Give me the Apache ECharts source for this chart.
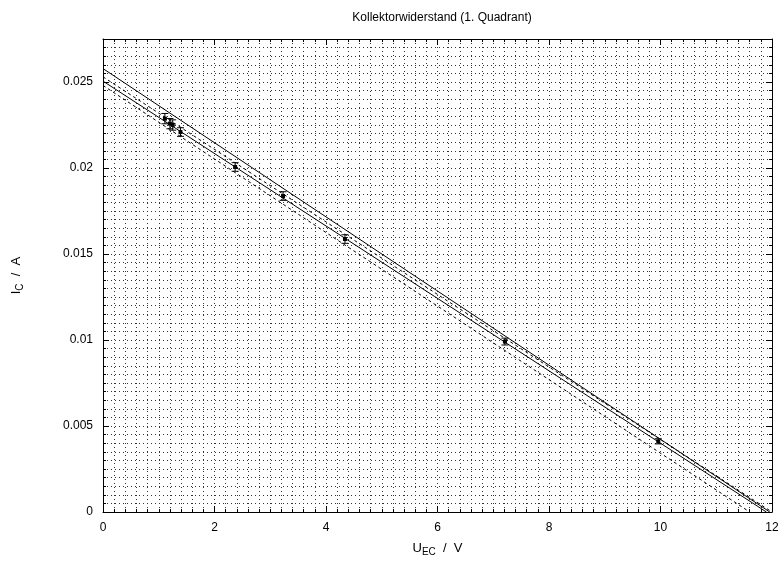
<!DOCTYPE html>
<html><head><meta charset="utf-8">
<script src="https://cdn.jsdelivr.net/npm/echarts@6/dist/echarts.min.js"></script>
<style>html,body{margin:0;padding:0;background:#fff}#c{width:784px;height:562px}</style>
</head><body><div id="c"></div>
<script>
// ---- data ----
const titleText = 'Kollektorwiderstand (1. Quadrant)';
const xMin = 0, xMax = 12, xStep = 2;
const yMin = 0, yMax = 0.0275, yStep = 0.005;
const uEC  = [1.11, 1.20, 1.25, 1.39, 2.37, 3.23, 4.34, 7.21, 9.96];
const iC   = [0.02287, 0.02258, 0.02250, 0.02209, 0.02006, 0.01837, 0.01587, 0.00991, 0.00411];
const iErr = [0.00030, 0.00030, 0.00030, 0.00025, 0.00025, 0.00025, 0.00025, 0.00020, 0.00015];
const solidUpper = [[0, 0.02578], [11.96, 0]];
const solidLower = [[0, 0.02505], [11.90, 0]];
const dashUpper  = [[0, 0.02530], [12.00, 0]];
const dashLower  = [[0, 0.02480], [11.60, 0]];

const FONT = '"Liberation Sans", Arial, sans-serif';
const chart = echarts.init(document.getElementById('c'), null, {renderer: 'canvas'});

const gridLine = {show: true, lineStyle: {color: '#333', width: 1, type: [1, 3]}};
function axisCommon(showLabels, pos) {
  return {
    min: pos === 'x' ? xMin : yMin,
    max: pos === 'x' ? xMax : yMax,
    interval: pos === 'x' ? xStep : yStep,
    axisLine: {show: true, onZero: false, lineStyle: {color: '#000', width: 1}},
    axisTick: {show: true, inside: true, length: 6, lineStyle: {color: '#000'}},
    minorTick: {show: true, splitNumber: 10, length: 3, lineStyle: {color: '#000'}},
    splitLine: showLabels ? gridLine : {show: false},
    minorSplitLine: showLabels ? gridLine : {show: false},
    axisLabel: showLabels ? {
      show: true, color: '#000', fontFamily: FONT, fontSize: 12, margin: 10,
      showMaxLabel: pos === 'x',
      formatter: v => String(+v.toFixed(6))
    } : {show: false}
  };
}

const errData = uEC.map((x, i) => [x, iC[i], iErr[i]]);
const nameRich = {n: {fontFamily: FONT, fontSize: 13, color: '#000'},
                  s: {fontFamily: FONT, fontSize: 10, color: '#000', verticalAlign: 'bottom', padding: [7, 0, 0, 0]}};

const option = {
  animation: false,
  backgroundColor: '#fff',
  title: {text: titleText, left: 437, top: 7, textAlign: 'center',
          textStyle: {fontFamily: FONT, fontSize: 12, fontWeight: 'normal', color: '#000'}},
  grid: {left: 103, right: 12, top: 39, bottom: 49},
  xAxis: [
    Object.assign({type: 'value', position: 'bottom',
      name: '{n|U}{s|EC}{n|  /  V}', nameLocation: 'middle', nameGap: 28,
      nameTextStyle: {rich: nameRich}
    }, axisCommon(true, 'x')),
    Object.assign({type: 'value', position: 'top'}, axisCommon(false, 'x'))
  ],
  yAxis: [
    Object.assign({type: 'value', position: 'left',
      name: '{n|I}{s|C}{n|  /  A}', nameLocation: 'middle', nameGap: 78, nameRotate: 90,
      nameTextStyle: {rich: nameRich}
    }, axisCommon(true, 'y')),
    Object.assign({type: 'value', position: 'right'}, axisCommon(false, 'y'))
  ],
  series: [
    {type: 'line', data: solidUpper, symbol: 'none', silent: true,
     lineStyle: {color: '#000', width: 1}},
    {type: 'line', data: solidLower, symbol: 'none', silent: true,
     lineStyle: {color: '#000', width: 1}},
    {type: 'line', data: dashUpper, symbol: 'none', silent: true,
     lineStyle: {color: '#000', width: 1, type: [3, 3]}},
    {type: 'line', data: dashLower, symbol: 'none', silent: true,
     lineStyle: {color: '#000', width: 1, type: [3, 3]}},
    {type: 'custom', data: errData, silent: true,
     renderItem: function (params, api) {
       const x = api.value(0), y = api.value(1), e = api.value(2);
       const p = api.coord([x, y]);
       const hi = api.coord([x, y + e]);
       const lo = api.coord([x, y - e]);
       const cw = 3.5;
       const st = {stroke: '#000', lineWidth: 1};
       return {type: 'group', children: [
         {type: 'line', shape: {x1: p[0], y1: hi[1], x2: p[0], y2: lo[1]}, style: st},
         {type: 'line', shape: {x1: p[0] - cw, y1: hi[1], x2: p[0] + cw, y2: hi[1]}, style: st},
         {type: 'line', shape: {x1: p[0] - cw, y1: lo[1], x2: p[0] + cw, y2: lo[1]}, style: st},
         {type: 'rect', shape: {x: p[0] - 2, y: p[1] - 2, width: 4, height: 4}, style: {fill: '#000'}}
       ]};
     }}
  ]
};
chart.setOption(option);
</script></body></html>
